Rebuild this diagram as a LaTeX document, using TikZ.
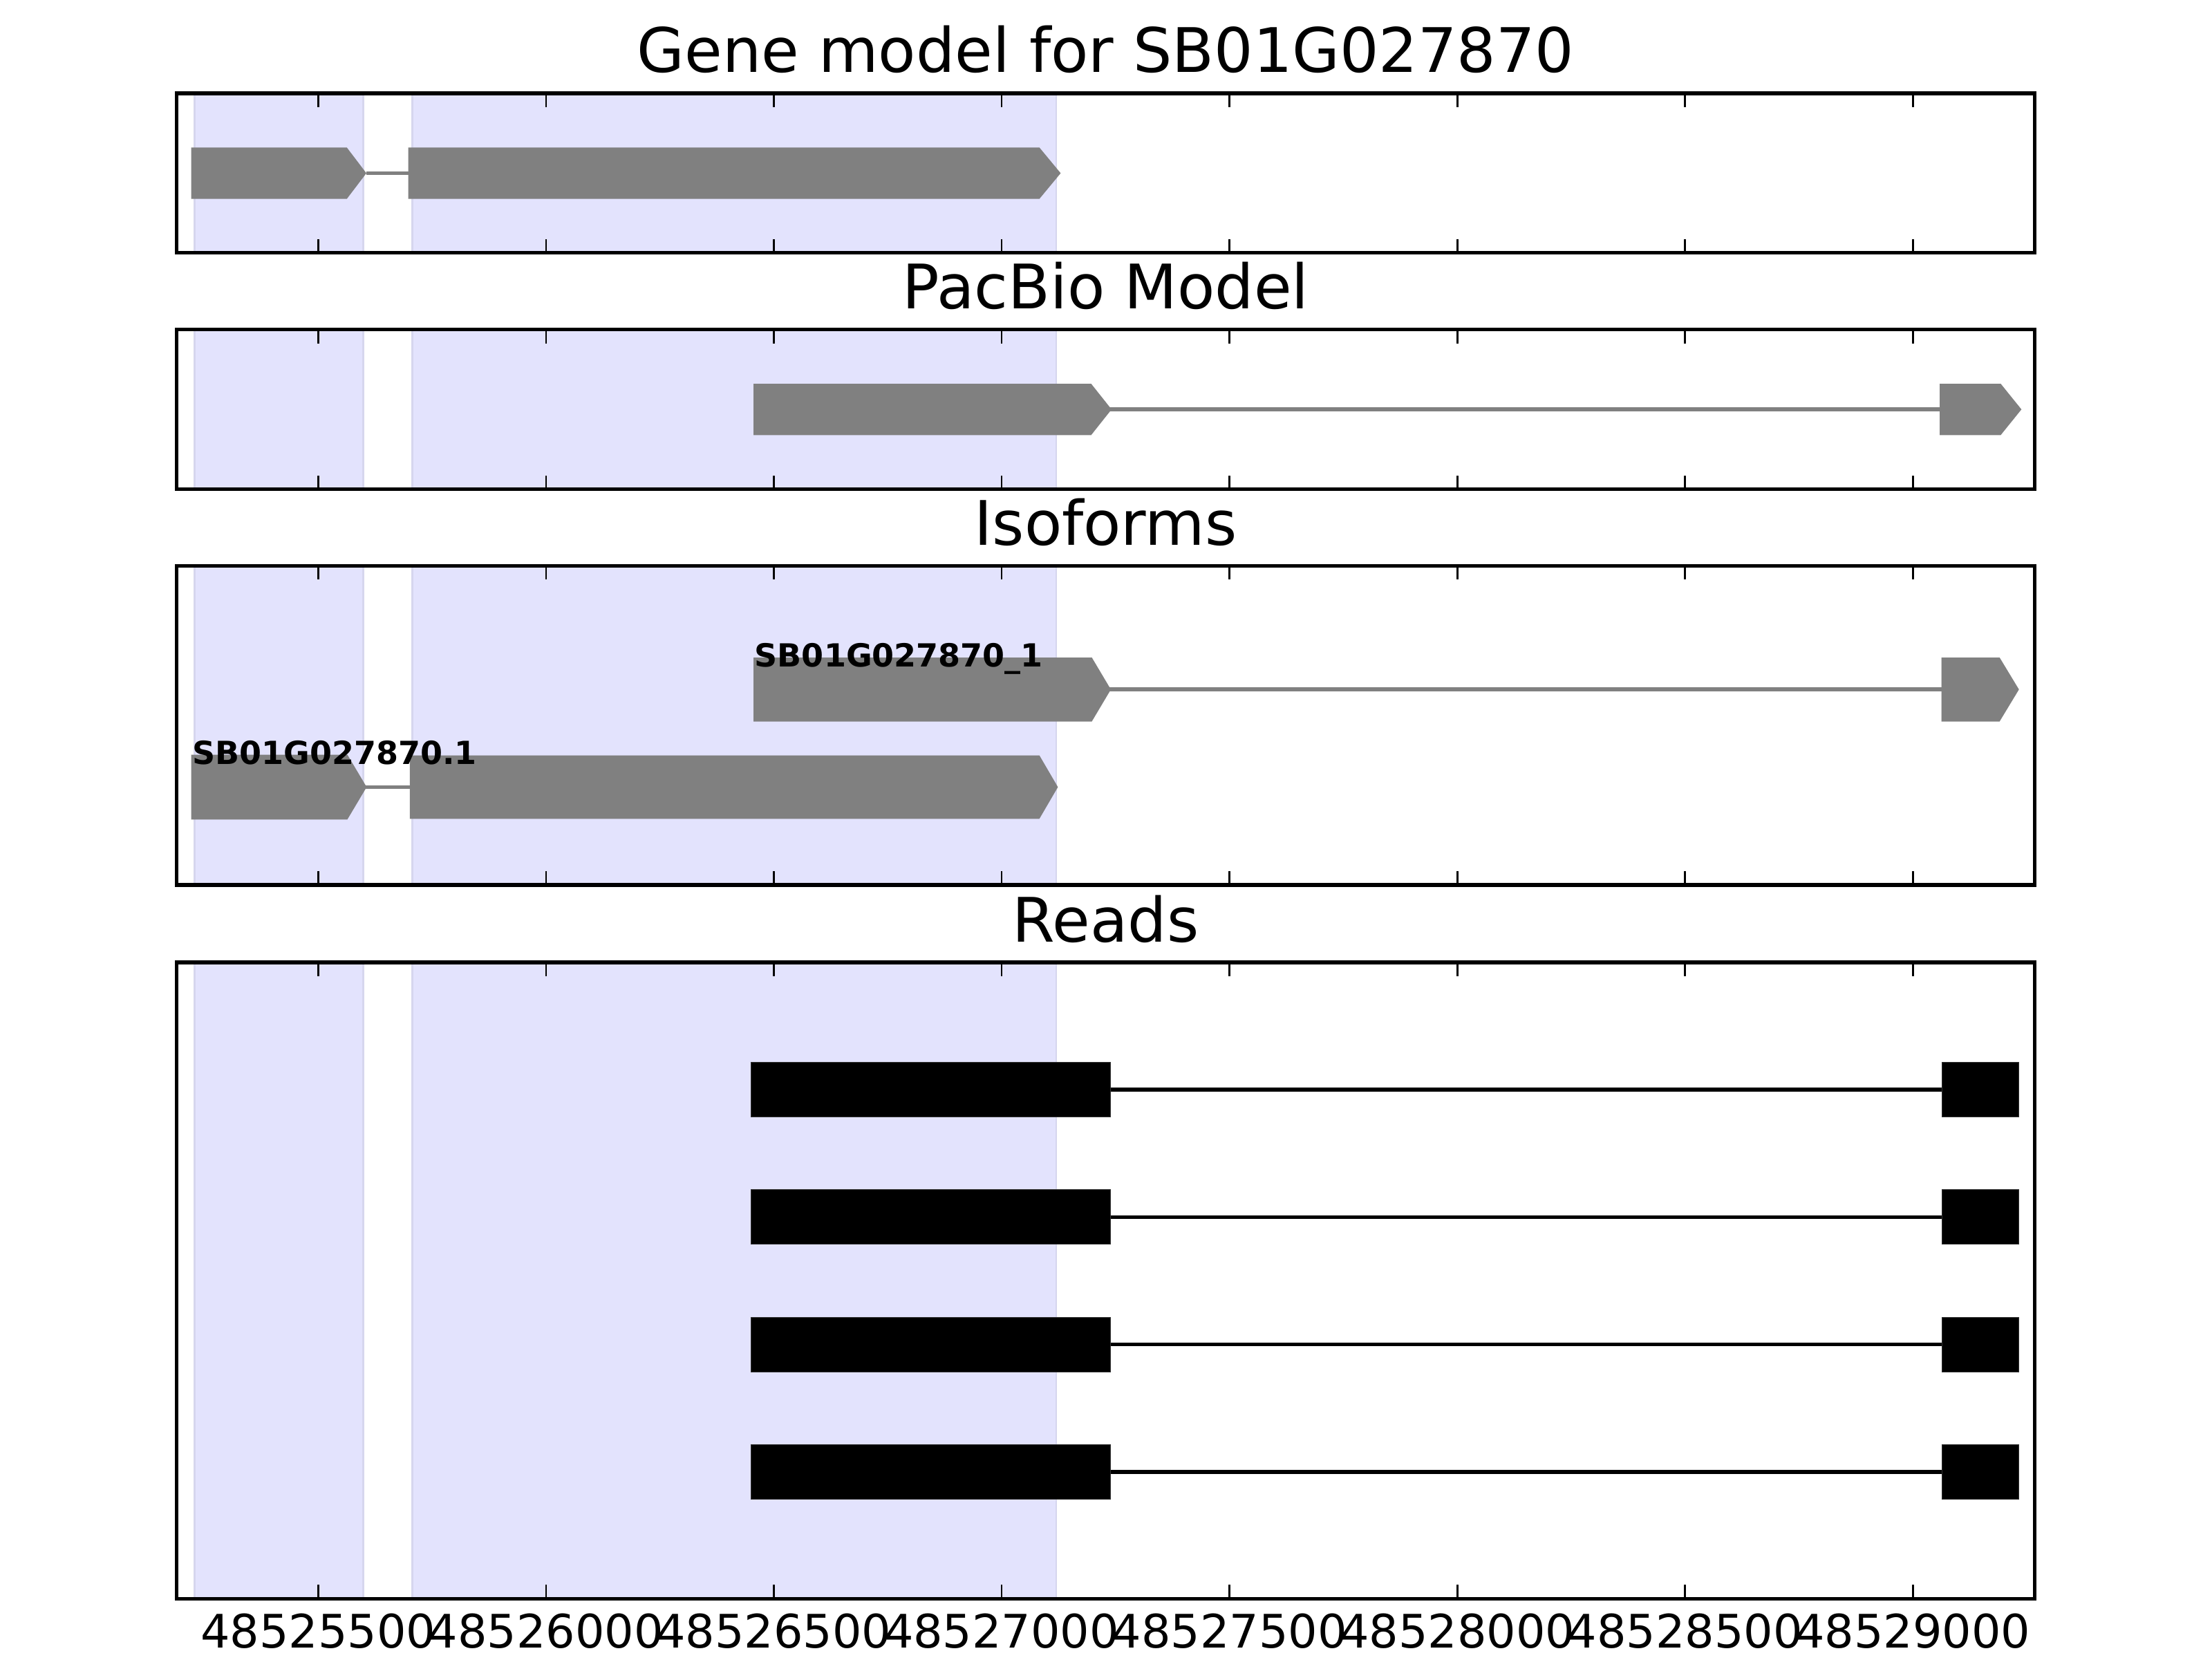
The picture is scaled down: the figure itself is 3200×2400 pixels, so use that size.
\documentclass[tikz,border=0pt]{standalone}
\usepackage{fontspec}
\setmainfont{DejaVu Sans}
\begin{document}
\begin{tikzpicture}[x=0.25pt,y=-0.25pt]
\definecolor{shadecol}{RGB}{227,227,253}
\definecolor{shadeedge}{RGB}{214,214,238}
\definecolor{genegray}{RGB}{128,128,128}
\tikzset{
  frameline/.style={line width=1.39pt,black},
  tickline/.style={line width=0.7pt,black},
  intronline/.style={line width=1.45pt,genegray},
  readline/.style={line width=1.3pt,black},
  titletext/.style={inner sep=0pt,anchor=base,font=\fontsize{22.2}{26}\selectfont},
  ticklab/.style={inner sep=0pt,anchor=base,font=\fontsize{16.7}{20}\selectfont},
  isolab/.style={inner sep=0pt,anchor=base west,font=\fontsize{11.5}{13}\selectfont\bfseries},
}
\newcommand{\exonarrow}[5]{%
  \fill[genegray] (#1,#4) -- (#2,#4) -- (#3,{(#4+#5)/2}) -- (#2,#5) -- (#1,#5) -- cycle;}
\useasboundingbox[fill=white] (0,0) rectangle (3200,2400);

% shaded spans
\foreach \t/\b in {135/365.5, 476.7/707.7, 818.3/1280, 1391.7/2312.3} {
  \fill[shadecol] (281.7,\t) rectangle (525.7,\b);
  \fill[shadecol] (596.7,\t) rectangle (1528,\b);
  \draw[shadeedge,line width=0.7pt] (281.7,\t) -- (281.7,\b);
  \draw[shadeedge,line width=0.7pt] (525.7,\t) -- (525.7,\b);
  \draw[shadeedge,line width=0.7pt] (596.7,\t) -- (596.7,\b);
  \draw[shadeedge,line width=0.7pt] (1528,\t) -- (1528,\b);
}

% Panel 1: gene model
\coordinate (g1a) at (530,250.5);
\coordinate (g1b) at (590.7,250.5);
\draw[intronline] (g1a) -- (g1b);
\exonarrow{276.7}{501.7}{530}{213.3}{287.7}
\exonarrow{590.7}{1503.6}{1534.4}{213.3}{287.7}

% Panel 2: PacBio model
\coordinate (p1a) at (1600,592);
\coordinate (p1b) at (2806,592);
\draw[intronline] (p1a) -- (p1b);
\exonarrow{1090.2}{1578.5}{1608}{555}{629.3}
\exonarrow{2806}{2894.3}{2924.3}{555}{629.3}

% Panel 3: isoforms
\coordinate (i1a) at (1600,997.3);
\coordinate (i1b) at (2808.7,997.3);
\draw[intronline] (i1a) -- (i1b);
\exonarrow{1090.2}{1579.5}{1607}{951}{1043.5}
\exonarrow{2808.7}{2892.7}{2920.7}{951}{1043.5}
\node[isolab] (lab1) at (1091,964) {SB01G027870\_1};

\coordinate (i2a) at (528,1138.4);
\coordinate (i2b) at (592.8,1138.4);
\draw[intronline] (i2a) -- (i2b);
\exonarrow{276.7}{502.5}{530.4}{1091.5}{1185.3}
\exonarrow{592.8}{1503.6}{1530.4}{1092.5}{1184.3}
\node[isolab] (lab2) at (277.5,1105) {SB01G027870.1};

% Panel 4: reads
\foreach \c [count=\i] in {1576,1760.3,1944.7,2129} {
  \coordinate (r\i a) at (1600,\c);
  \coordinate (r\i b) at (2809.3,\c);
  \draw[readline] (r\i a) -- (r\i b);
  \filldraw[fill=black,draw=black!80,line width=0.3pt] (1086.2,\c-39.5) rectangle (1606.7,\c+39.5);
  \filldraw[fill=black,draw=black!80,line width=0.3pt] (2809.3,\c-39.5) rectangle (2920.7,\c+39.5);
}

% ticks and frames
\foreach \t/\b in {135/365.5, 476.7/707.7, 818.3/1280, 1391.7/2312.3} {
  \foreach \x in {460.3,789.9,1119.4,1449.0,1778.6,2108.1,2437.7,2767.3} {
    \draw[tickline] (\x,\t) -- (\x,\t+20);
    \draw[tickline] (\x,\b) -- (\x,\b-20);
  }
  \draw[frameline] (255.7,\t) rectangle (2943.5,\b);
}

% tick labels
\foreach \x/\lab [count=\i] in {460.3/48525500,789.9/48526000,1119.4/48526500,1449.0/48527000,1778.6/48527500,2108.1/48528000,2437.7/48528500,2767.3/48529000} {
  \node[ticklab] (tl\i) at (\x,2383) {\lab};
}

% titles
\node[titletext] (title1) at (1599.6,104) {Gene model for SB01G027870};
\node[titletext] (title2) at (1599.6,446.5) {PacBio Model};
\node[titletext] (title3) at (1599.6,788) {Isoforms};
\node[titletext] (title4) at (1599.6,1362) {Reads};
\end{tikzpicture}
\end{document}
